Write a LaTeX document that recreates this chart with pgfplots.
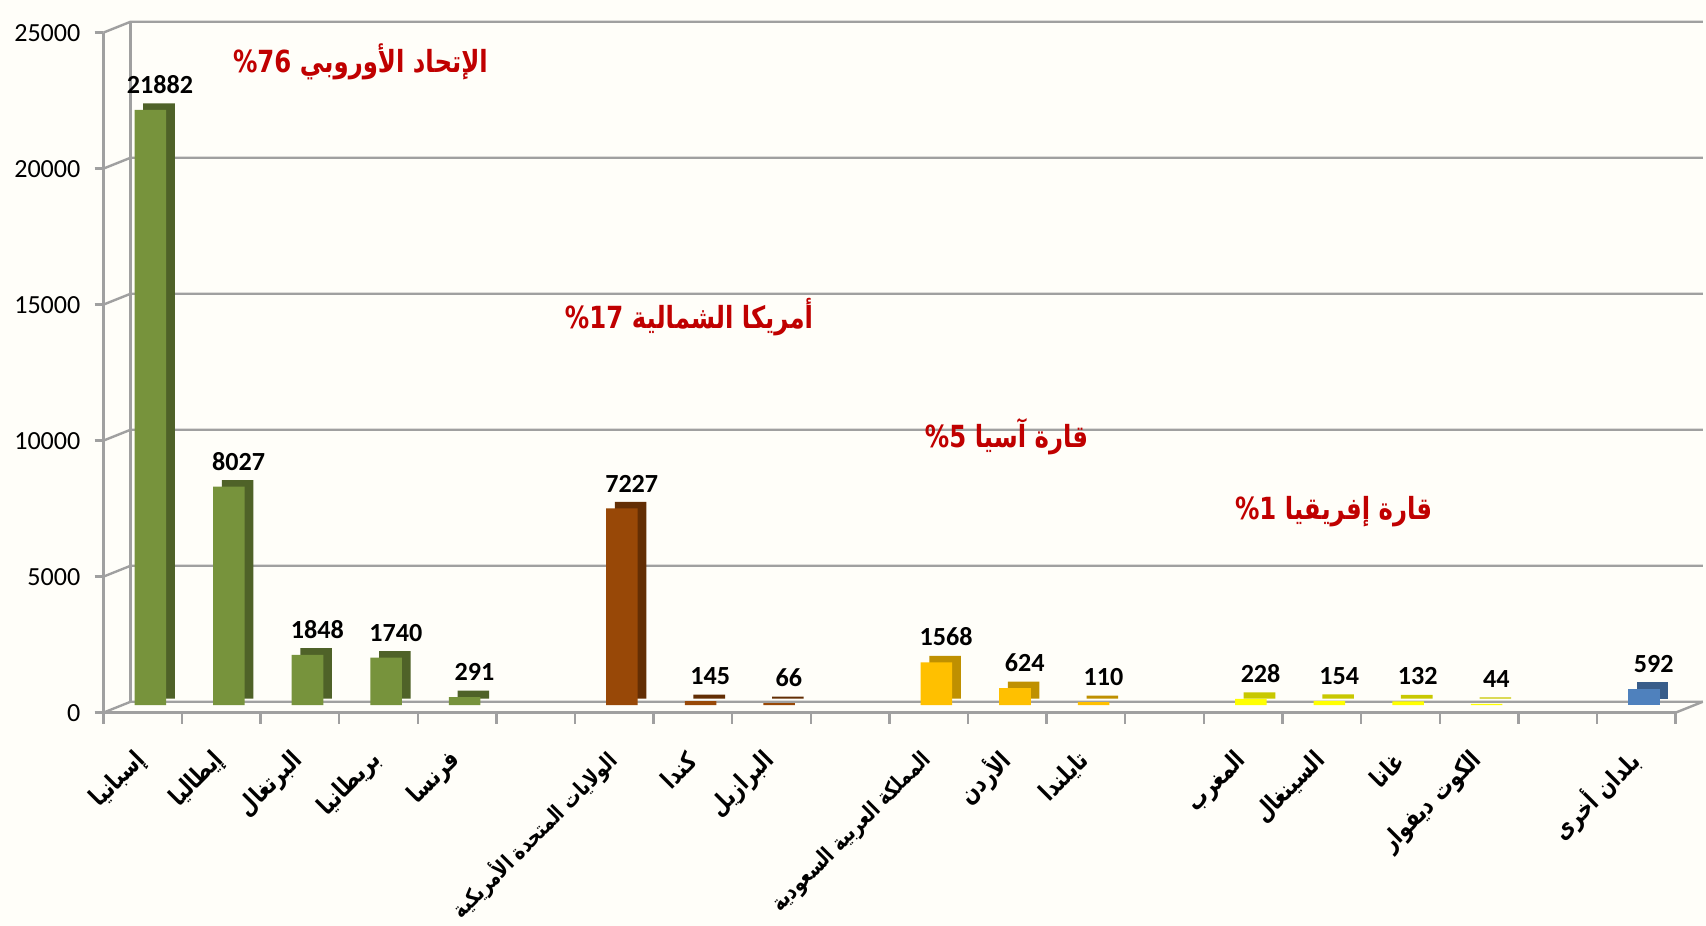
\documentclass[border=0pt]{standalone}
\usepackage{fontspec}
\setmainfont{Carlito}
\newfontfamily\arabicfont[Script=Arabic, FakeStretch=0.8]{DejaVu Sans}
\TeXXeTstate=1
\usepackage{pgfplots}
\pgfplotsset{compat=1.18}
\definecolor{bgc}{HTML}{FFFEF9}
\definecolor{axc}{HTML}{A0A0A0}
\definecolor{gfront}{HTML}{77933C}
\definecolor{gside}{HTML}{4F6228}
\definecolor{bfront}{HTML}{984807}
\definecolor{bside}{HTML}{632E04}
\definecolor{afront}{HTML}{FFC000}
\definecolor{aside}{HTML}{BF9000}
\definecolor{yfront}{HTML}{FFFF00}
\definecolor{yside}{HTML}{C8C800}
\definecolor{lfront}{HTML}{4F81BD}
\definecolor{lside}{HTML}{385D8A}
\definecolor{redc}{HTML}{C00000}
\newcommand{\ar}[1]{{\arabicfont\bfseries\beginR #1\endR}}
\newcommand{\arl}[1]{{\arabicfont\bfseries\fontsize{10.2}{12}\selectfont\beginR #1\endR}}
\newcommand{\arr}[2]{{\arabicfont\bfseries\beginR #1 \beginL #2\endL\%\endR}}
\pgfplotsset{
  frontbar/.style={ybar, bar width=14.5pt, bar shift=3.5pt, yshift=3.5pt, draw=none,
    nodes near coords, point meta=y,
    every node near coord/.append style={font=\bfseries\fontsize{12}{14}\selectfont, text=black, anchor=south, xshift=8pt, yshift=4pt}},
  sidebar/.style={ybar, bar width=14.5pt, bar shift=7.5pt, yshift=6.5pt, draw=none},
}
\begin{document}
\begin{tikzpicture}
\path[use as bounding box, fill=bgc] (-47.5pt,-98pt) rectangle (736.5pt,327.5pt);
\begin{axis}[
  at={(0pt,0pt)}, anchor=south west,
  scale only axis, width=722.5pt, height=312.5pt,
  xmin=-0.5, xmax=19.5, ymin=0, ymax=25000,
  clip=false,
  axis x line*=bottom, axis y line*=left,
  axis line style={-, draw=axc, line width=1.1pt},
  tick align=outside,
  scaled y ticks=false,
  ytick={0,5000,10000,15000,20000,25000},
  major tick length=4pt, minor tick length=5pt,
  every major y tick/.append style={draw=axc, line width=1.1pt},
  every major x tick/.append style={draw=none},
  every minor x tick/.append style={draw=axc, line width=1.1pt},
  xtick={0,1,2,3,4,6,7,8,10,11,12,14,15,16,17,19},
  minor xtick={-0.5,0.5,...,19.5},
  xticklabels={\ar{إسبانيا},\ar{إيطاليا},\ar{البرتغال},\ar{بريطانيا},\ar{فرنسا},
    \arl{الولايات المتحدة الأمريكية},\ar{كندا},\ar{البرازيل},
    \arl{المملكة العربية السعودية},\ar{الأردن},\ar{تايلندا},
    \ar{المغرب},\ar{السينغال},\ar{غانا},\ar{الكوت ديفوار},\ar{بلدان أخرى}},
  xticklabel style={rotate=45, anchor=east, font=\fontsize{11.5}{14}\selectfont, xshift=-8.3pt, yshift=-11.2pt},
  yticklabel style={font=\fontsize{12}{14}\selectfont, text=black, xshift=-3pt},
  /pgf/number format/1000 sep={},
  /pgf/number format/assume math mode=true,
]
\pgfplotsinvokeforeach{0,5000,10000,15000,20000,25000}{
  \draw[axc, line width=1.1pt] (axis cs:-0.5,#1) -- ++(12.5pt,5pt) -- ([xshift=12.5pt,yshift=5pt]axis cs:19.5,#1);
}
\draw[axc, line width=1.1pt] ([xshift=12.5pt,yshift=5pt]axis cs:-0.5,0) -- ([xshift=12.5pt,yshift=5pt]axis cs:-0.5,25000);
\draw[axc, line width=1.1pt] (axis cs:19.5,0) -- ++(12.5pt,5pt);

\addplot[sidebar, fill=gside] coordinates {(0,21882) (1,8027) (2,1848) (3,1740) (4,291)};
\addplot[frontbar, fill=gfront] coordinates {(0,21882) (1,8027) (2,1848) (3,1740) (4,291)};
\addplot[sidebar, fill=bside] coordinates {(6,7227) (7,145) (8,66)};
\addplot[frontbar, fill=bfront] coordinates {(6,7227) (7,145) (8,66)};
\addplot[sidebar, fill=aside] coordinates {(10,1568) (11,624) (12,110)};
\addplot[frontbar, fill=afront] coordinates {(10,1568) (11,624) (12,110)};
\addplot[sidebar, fill=yside] coordinates {(14,228) (15,154) (16,132) (17,44)};
\addplot[frontbar, fill=yfront] coordinates {(14,228) (15,154) (16,132) (17,44)};
\addplot[sidebar, fill=lside] coordinates {(19,592)};
\addplot[frontbar, fill=lfront] coordinates {(19,592)};

\node[text=redc, font=\fontsize{14}{18}\selectfont] at (axis cs:2.77,23920) {\arr{الإتحاد الأوروبي}{76}};
\node[text=redc, font=\fontsize{14}{18}\selectfont] at (axis cs:6.95,14560) {\arr{أمريكا الشمالية}{17}};
\node[text=redc, font=\fontsize{14}{18}\selectfont] at (axis cs:10.99,10160) {\arr{قارة آسيا}{5}};
\node[text=redc, font=\fontsize{14}{18}\selectfont] at (axis cs:15.15,7400) {\arr{قارة إفريقيا}{1}};
\end{axis}
\end{tikzpicture}
\end{document}
